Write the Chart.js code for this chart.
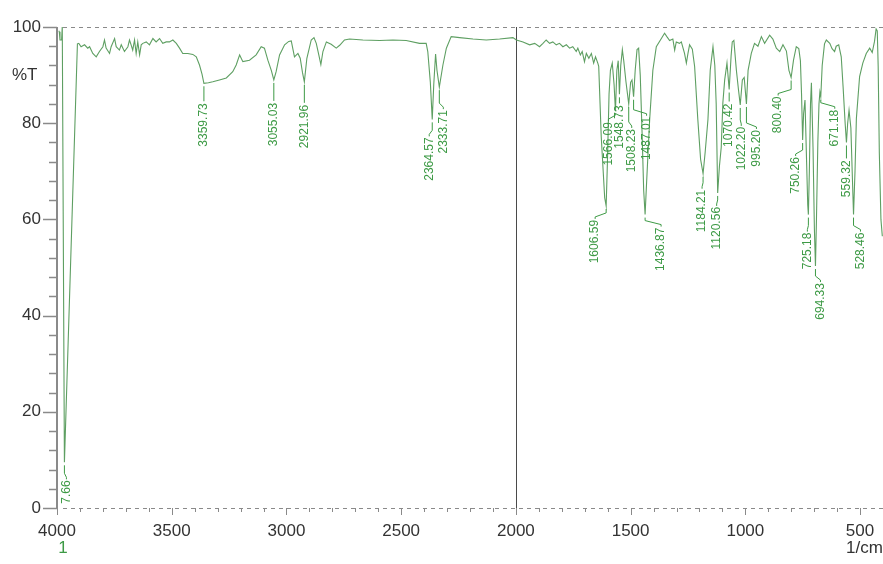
<!DOCTYPE html>
<html>
<head>
<meta charset="utf-8">
<script src="https://cdn.jsdelivr.net/npm/chart.js@4.4.1/dist/chart.umd.min.js"></script>
<style>
  html, body { margin: 0; padding: 0; background: #ffffff; }
  canvas { display: block; }
</style>
</head>
<body>
<canvas id="ir" width="883" height="564"></canvas>
<script>
// IR transmittance spectrum, wavenumber (1/cm) vs %T
const wavenumbers = [
  3992, 3990, 3987, 3980, 3977, 3967.66, 3911, 3905, 3895, 3880, 3866, 3858, 3844, 3829, 3815, 3800,
  3793, 3786, 3771, 3764, 3749, 3742, 3728, 3720, 3706, 3691, 3684, 3677, 3670, 3662, 3655, 3648,
  3640, 3633, 3626, 3611, 3597, 3582, 3568, 3553, 3539, 3524, 3510, 3495, 3480, 3466, 3452, 3430, 3408,
  3393, 3379, 3368, 3359.73, 3340, 3321, 3292, 3262, 3234, 3219, 3204, 3190, 3161, 3132, 3110, 3096,
  3081, 3066, 3055.03, 3045, 3030, 3008, 2990, 2979, 2965, 2950, 2940, 2930, 2921.96, 2911, 2892, 2880,
  2870, 2859, 2850, 2841, 2826, 2805, 2783, 2768, 2747, 2725,
  2667, 2594, 2536, 2478, 2420, 2391, 2384, 2373, 2364.57, 2358, 2350, 2344, 2333.71, 2318, 2303, 2282,
  2245, 2187, 2129, 2071, 2013,
  1998, 1969, 1940, 1918, 1897, 1882, 1868, 1853, 1839, 1824, 1810, 1795, 1780, 1766, 1752, 1737,
  1730, 1719, 1711, 1701, 1693, 1682, 1671, 1661, 1653, 1643, 1639, 1628, 1613, 1606.59, 1601, 1594,
  1588, 1580, 1572, 1566.09, 1560, 1554, 1548.73, 1543, 1536, 1530, 1520, 1508.23, 1500, 1494, 1487.01,
  1480, 1472, 1465, 1458, 1450, 1443, 1436.87, 1430, 1417, 1403,
  1388, 1366, 1352, 1342, 1330, 1316, 1308, 1301, 1287, 1279, 1265, 1257, 1250, 1243, 1231, 1221,
  1207, 1195, 1184.21, 1175, 1163, 1153, 1141, 1133, 1127, 1120.56, 1113, 1105, 1098, 1090, 1080,
  1070.42, 1062, 1057, 1050, 1039, 1030, 1022.20, 1013, 1005, 995.20, 988, 974, 960, 945, 930, 916,
  894, 880, 865, 850, 836, 821, 810, 800.40,
  790, 778, 767, 760, 755, 750.26, 746, 740, 733, 728, 725.18, 721, 716, 712, 705, 699, 694.33, 690,
  684, 679, 675, 671.18, 665, 655, 647, 632, 622, 611, 604, 593, 582, 574, 565, 559.32, 554, 548,
  540, 533, 528.46, 522, 516, 502, 488, 473, 458, 447, 437, 430, 425, 421, 416, 409, 403
];

const transmittance = [
  99.2, 99.0, 97.3, 97.3, 100.2, 9.5, 96.5, 96.6, 95.9, 96.3, 95.6, 95.9, 94.5, 93.8, 94.9, 95.9,
  97.3, 95.6, 94.5, 95.9, 97.6, 95.9, 95.2, 96.3, 94.9, 95.9, 97.3, 96.3, 95.2, 97.3, 94.5, 96.9,
  94.2, 96.3, 96.6, 96.9, 96.3, 97.6, 96.9, 97.6, 96.6, 96.9, 96.9, 97.3, 96.6, 95.6, 94.5, 94.5, 94.3,
  93.8, 92.1, 90.2, 88.3, 88.4, 88.6, 89.0, 89.4, 90.7, 92.1, 94.2, 92.8, 93.1, 94.2, 95.9, 95.6,
  93.1, 91.0, 89.0, 90.7, 94.2, 96.3, 97.0, 97.1, 93.8, 94.5, 93.5, 90.5, 88.6, 93.5, 97.3, 97.8,
  96.6, 94.2, 92.2, 94.9, 96.9, 96.4, 95.6, 96.2, 97.3, 97.5,
  97.3, 97.2, 97.3, 97.2, 96.6, 96.6, 94.9, 88.6, 80.8, 88.0, 94.4, 91.0, 87.5, 92.1, 95.6, 98.0,
  97.8, 97.5, 97.3, 97.5, 97.8,
  97.3, 96.9, 96.3, 96.6, 95.9, 96.6, 97.3, 96.6, 96.9, 96.3, 96.6, 95.9, 96.3, 95.6, 95.9, 94.9,
  95.6, 94.2, 94.9, 92.8, 94.5, 93.5, 94.5, 92.5, 93.8, 92.5, 91.8, 77.2, 64.5, 62.8, 72.0, 86.0,
  91.0, 92.5, 88.0, 82.5, 91.0, 93.0, 86.0, 92.0, 95.3, 93.0, 88.5, 84.0, 88.5, 89.0, 85.5,
  91.0, 95.3, 95.6, 90.0, 78.0, 66.0, 61.0, 68.0, 80.7, 91.0,
  95.9, 97.6, 98.7, 98.0, 97.2, 97.5, 95.2, 96.9, 96.6, 96.9, 94.5, 92.5, 94.5, 96.3, 95.4, 91.8,
  80.7, 72.5, 69.5, 74.0, 80.7, 91.0, 95.9, 92.0, 84.0, 65.5, 71.0, 75.0, 84.2, 89.0, 92.5,
  87.0, 94.0, 96.9, 97.2, 91.0, 87.0, 83.8, 89.0, 89.5, 84.0, 91.0, 94.5, 96.6, 96.0, 98.0, 96.6,
  98.3, 97.5, 95.6, 94.9, 96.3, 95.0, 91.0, 89.5,
  93.1, 95.9, 95.5, 93.0, 86.0, 76.5, 82.0, 84.8, 72.0, 63.0, 61.0, 70.0, 84.0, 88.4, 75.0, 58.0, 50.3, 60.0,
  76.0, 84.0, 86.5, 85.5, 92.0, 96.5, 97.3, 96.6, 95.5, 94.9, 96.0, 96.3, 93.8, 87.6, 80.0, 76.0, 80.0, 82.7,
  79.0, 68.0, 61.0, 70.0, 81.0, 89.7, 92.5, 94.5, 95.6, 94.7, 97.0, 99.6, 99.2, 91.8, 73.8, 60.0, 56.5
];

// picked peaks (1/cm)
const peakPositions = [
  3967.66, 3359.73, 3055.03, 2921.96, 2364.57, 2333.71,
  1606.59, 1566.09, 1548.73, 1508.23, 1487.01, 1436.87,
  1184.21, 1120.56, 1070.42, 1022.20, 995.20, 800.40,
  750.26, 725.18, 694.33, 671.18, 559.32, 528.46
];

// axis ticks
const xTickValues = [4000, 3500, 3000, 2500, 2000, 1500, 1000, 500];
const yTickValues = [0, 20, 40, 60, 80, 100];

// peak label placement: [shift of text column in px, gap from peak to text top in px]
const peakLabelOffsets = {
  '3967.66': [2, 18], '3359.73': [0, 20], '3055.03': [0, 23], '2921.96': [0, 23],
  '2364.57': [-3, 18], '2333.71': [4, 23],
  '1606.59': [-11, 14], '1566.09': [-7, 11], '1548.73': [0, 11], '1508.23': [3, 25],
  '1487.01': [13, 20], '1436.87': [16, 13],
  '1184.21': [-1, 16], '1120.56': [-1, 14], '1070.42': [0, 14], '1022.20': [1, 22],
  '995.20': [10, 26], '800.40': [-13, 19],
  '750.26': [-7, 17], '725.18': [-1, 18], '694.33': [5, 17], '671.18': [14, 13],
  '559.32': [0, 18], '528.46': [7, 18]
};

const FONT = "'Liberation Sans', Arial, sans-serif";
const LINE_GREEN = '#5e9f62';
const TEXT_GREEN = '#3d9a45';
const AXIS_GRAY = '#8a8a8a';

const spectrum = wavenumbers.map((w, i) => ({ x: w, y: transmittance[i] }));

// frame: dashed top/bottom rules, left axis with minor ticks, 2000 divider
const framePlugin = {
  id: 'irFrame',
  beforeDatasetsDraw(chart) {
    const { ctx, chartArea: a, scales: { x, y } } = chart;
    ctx.save();
    ctx.strokeStyle = AXIS_GRAY;
    ctx.lineWidth = 1;
    ctx.setLineDash([4, 4]);
    [a.top + 0.5, a.bottom + 0.5].forEach(py => {
      ctx.beginPath();
      ctx.moveTo(a.left + 6, py);
      ctx.lineTo(a.right, py);
      ctx.stroke();
    });
    ctx.setLineDash([]);
    // x ticks (minor every 100, major every 500)
    for (let w = 4000; w >= 400; w -= 100) {
      const px = Math.round(x.getPixelForValue(w)) + 0.5;
      const len = (w % 500 === 0) ? 7 : 4;
      ctx.beginPath();
      ctx.moveTo(px, a.bottom);
      ctx.lineTo(px, a.bottom + len);
      ctx.stroke();
    }
    // left axis
    ctx.lineWidth = 2;
    ctx.beginPath();
    ctx.moveTo(a.left, a.top);
    ctx.lineTo(a.left, a.bottom + 1);
    ctx.stroke();
    ctx.lineWidth = 1.5;
    for (let t = 0; t <= 100; t += 4) {
      const py = Math.round(y.getPixelForValue(t)) + 0.5;
      const len = (t % 20 === 0) ? 14 : 8;
      ctx.beginPath();
      ctx.moveTo(a.left - len, py);
      ctx.lineTo(a.left, py);
      ctx.stroke();
    }
    // divider at 2000 1/cm
    const dx = Math.round(x.getPixelForValue(2000)) + 0.5;
    ctx.strokeStyle = '#4a4a4a';
    ctx.lineWidth = 1;
    ctx.beginPath();
    ctx.moveTo(dx, a.top);
    ctx.lineTo(dx, a.bottom);
    ctx.stroke();
    ctx.restore();
  }
};

// peak wavenumber labels with leader lines
const peakLabelPlugin = {
  id: 'irPeakLabels',
  afterDatasetsDraw(chart) {
    const { ctx, chartArea: a, scales: { x, y } } = chart;
    ctx.save();
    ctx.beginPath();
    ctx.rect(a.left, a.top, a.right - a.left, a.bottom - a.top - 4);
    ctx.clip();
    ctx.strokeStyle = TEXT_GREEN;
    ctx.fillStyle = TEXT_GREEN;
    ctx.lineWidth = 1;
    ctx.font = '12px ' + FONT;
    peakPositions.forEach(w => {
      const idx = wavenumbers.indexOf(w);
      const text = w.toFixed(2);
      const [dx, dy] = peakLabelOffsets[text] || [0, 18];
      const px = x.getPixelForValue(w);
      const py = y.getPixelForValue(transmittance[idx]);
      const tx = px + dx;
      const top = py + dy;
      ctx.beginPath();
      if (Math.abs(dx) < 1) {
        ctx.moveTo(px, py + 3);
        ctx.lineTo(px, top - 2);
      } else {
        ctx.moveTo(px, py + 3);
        ctx.lineTo(px, Math.max(py + 4, top - 7));
        ctx.lineTo(tx, top - 3);
        ctx.lineTo(tx, top - 1);
      }
      ctx.stroke();
      ctx.save();
      ctx.translate(tx, top);
      ctx.rotate(-Math.PI / 2);
      ctx.textAlign = 'right';
      ctx.textBaseline = 'middle';
      ctx.fillText(text, 0, 0);
      ctx.restore();
    });
    ctx.restore();
  }
};

// axis captions
const captionPlugin = {
  id: 'irCaptions',
  afterDraw(chart) {
    const { ctx } = chart;
    ctx.save();
    ctx.font = '17px ' + FONT;
    ctx.fillStyle = '#333333';
    ctx.textBaseline = 'middle';
    ctx.textAlign = 'left';
    ctx.fillText('%T', 12, 75);
    ctx.fillText('1/cm', 846, 548);
    ctx.fillStyle = TEXT_GREEN;
    ctx.textAlign = 'center';
    ctx.fillText('1', 63, 548);
    ctx.restore();
  }
};

new Chart(document.getElementById('ir'), {
  type: 'line',
  data: {
    datasets: [{
      data: spectrum,
      borderColor: LINE_GREEN,
      borderWidth: 1.1,
      pointRadius: 0,
      tension: 0,
      fill: false
    }]
  },
  options: {
    responsive: false,
    animation: false,
    devicePixelRatio: 1,
    layout: { padding: { top: 27, right: 0, left: 0, bottom: 0 } },
    plugins: { legend: { display: false }, tooltip: { enabled: false } },
    scales: {
      x: {
        type: 'linear',
        reverse: true,
        min: 400,
        max: 4000,
        afterBuildTicks: s => { s.ticks = xTickValues.map(v => ({ value: v })); },
        afterFit: s => { s.height = 56; s.paddingLeft = 0; s.paddingRight = 0; },
        grid: { display: false, drawTicks: false },
        border: { display: false },
        ticks: {
          autoSkip: false,
          maxRotation: 0,
          padding: 13,
          color: '#333333',
          font: { family: FONT, size: 17 },
          callback: v => String(v)
        }
      },
      y: {
        min: 0,
        max: 100,
        afterBuildTicks: s => { s.ticks = yTickValues.map(v => ({ value: v })); },
        afterFit: s => { s.width = 57; s.paddingTop = 0; s.paddingBottom = 0; },
        grid: { display: false, drawTicks: false },
        border: { display: false },
        ticks: {
          padding: 16,
          color: '#333333',
          font: { family: FONT, size: 17 },
          callback: v => String(v)
        }
      }
    }
  },
  plugins: [framePlugin, peakLabelPlugin, captionPlugin]
});
</script>
</body>
</html>
